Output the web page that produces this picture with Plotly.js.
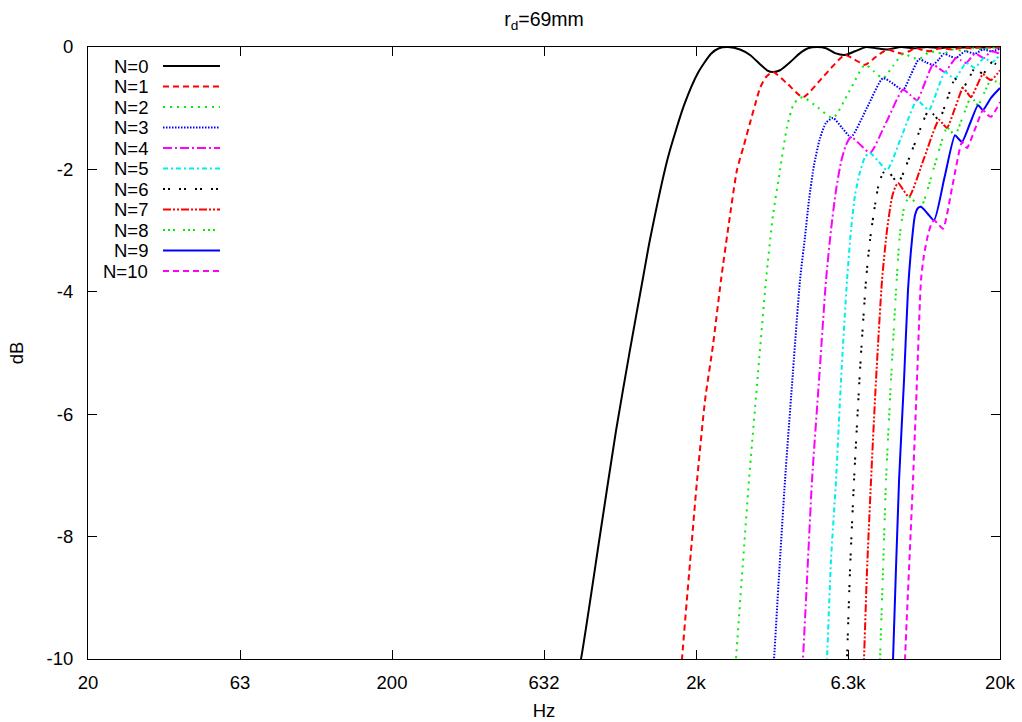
<!DOCTYPE html>
<html><head><meta charset="utf-8">
<script src="https://cdn.plot.ly/plotly-3.0.1.min.js"></script>
<style>html,body{margin:0;padding:0;background:#fff}#chart{width:1022px;height:722px}</style>
</head><body><div id="chart"></div>
<script>
// ---- data (frequency in Hz, level in dB) ----
const seriesNames = ['N=0','N=1','N=2','N=3','N=4','N=5','N=6','N=7','N=8','N=9','N=10'];

const hzN0 = [782,837,967,1092,1213,1339,1411,1618,1827,2031,2241,2381,2549,2791,3011,3248,3424,3583,3779,4076,4397,4671,5002,5354,5732,6184,6670,7250,7820,8500,9451,10505,11505,12696,13800,14999,16180,17453,18684,20000];
const dbN0 = [-10.67,-10,-7.97,-6.26,-4.95,-3.77,-3.15,-1.80,-0.95,-0.42,-0.11,-0.02,0,-0.04,-0.13,-0.28,-0.38,-0.41,-0.38,-0.25,-0.10,-0.02,0,-0.02,-0.10,-0.13,-0.07,0,-0.02,-0.04,0,-0.02,0,-0.02,0,-0.01,0,-0.01,0,0];

const hzN1 = [1746,1799,1911,2016,2142,2275,2417,2569,2728,2877,3011,3127,3248,3399,3583,4014,4498,5275,6184,6670,7195,7820,8500,9031,9596,10039,10505,11162,11770,12696,14011,14999,16302,17453,18684,20000];
const dbN1 = [-11.0,-10,-8.43,-7.08,-5.77,-4.87,-3.81,-2.86,-2.01,-1.60,-1.24,-0.95,-0.67,-0.49,-0.41,-0.61,-0.82,-0.47,-0.13,-0.21,-0.29,-0.16,-0.04,-0.08,-0.11,-0.07,-0.02,-0.05,-0.07,-0.02,-0.04,-0.01,-0.02,0,-0.01,-0.01];

const hzN2 = [2648,2708,2834,2988,3175,3399,3583,3779,3984,4170,4331,4498,5040,5646,6374,7195,7703,8246,8896,9596,10192,10829,11332,11770,12410,13087,14011,15343,16302,17585,18684,20000];
const dbN2 = [-10.67,-10,-8.63,-7.08,-5.52,-3.81,-2.75,-2.01,-1.31,-0.96,-0.85,-0.82,-0.99,-1.16,-0.73,-0.29,-0.40,-0.51,-0.31,-0.11,-0.16,-0.20,-0.13,-0.07,-0.09,-0.11,-0.04,-0.07,-0.02,-0.04,-0.01,-0.02];

const hzN3 = [3530,3611,3751,3925,4138,4397,4567,4707,4889,5117,5354,5646,6045,6471,7305,8246,8896,9596,10192,10829,11418,12041,12601,13087,13696,14333,15343,16551,17585,18684,20000];
const dbN3 = [-10.67,-10,-8.63,-7.08,-5.52,-3.81,-3.10,-2.50,-1.93,-1.49,-1.24,-1.16,-1.32,-1.47,-0.99,-0.51,-0.60,-0.70,-0.45,-0.20,-0.25,-0.29,-0.20,-0.11,-0.15,-0.18,-0.07,-0.11,-0.04,-0.07,-0.03];

const hzN4 = [4397,4498,4636,4816,5079,5354,5561,5776,5999,6231,6471,6954,7473,8467,9596,10115,10666,11332,12041,12601,13186,13748,14333,14885,15460,16551,17719,18684,20000];
const dbN4 = [-11.0,-10,-8.71,-7.08,-5.44,-3.81,-2.99,-2.34,-1.88,-1.60,-1.47,-1.60,-1.73,-1.22,-0.70,-0.78,-0.87,-0.58,-0.29,-0.35,-0.41,-0.29,-0.18,-0.22,-0.26,-0.11,-0.18,-0.07,-0.11];

const hzN5 = [5275,5395,5561,5776,5999,6278,6471,6670,6928,7195,7473,7970,8500,9524,10666,11162,11682,12410,13186,13696,14225,14829,15460,15997,16551,17719,18827,20000];
const dbN5 = [-11.0,-10,-8.38,-7.08,-5.44,-3.81,-2.99,-2.42,-2.04,-1.80,-1.73,-1.87,-2.01,-1.44,-0.87,-0.95,-1.03,-0.72,-0.41,-0.47,-0.52,-0.39,-0.26,-0.30,-0.34,-0.18,-0.25,-0.13];

const hzN6 = [6184,6278,6422,6620,6928,7250,7473,7762,8000,8246,8500,8862,9238,10387,11682,12132,12601,13388,14225,14662,15113,15816,16551,17061,17585,18827,20000];
const dbN6 = [-11.0,-10,-8.55,-7.08,-5.28,-3.81,-3.15,-2.58,-2.22,-2.06,-2.01,-2.12,-2.22,-1.63,-1.03,-1.11,-1.19,-0.86,-0.52,-0.60,-0.67,-0.51,-0.34,-0.39,-0.44,-0.25,-0.33];

const hzN7 = [7034,7141,7305,7530,7820,8184,8500,8829,9031,9238,9632,10039,11247,12601,12988,13388,14225,15113,15577,16057,16803,17585,17989,18684,20000];
const dbN7 = [-11.0,-10,-8.55,-7.08,-5.44,-3.81,-2.99,-2.45,-2.30,-2.22,-2.34,-2.45,-1.82,-1.19,-1.26,-1.32,-1.00,-0.67,-0.74,-0.82,-0.63,-0.44,-0.49,-0.54,-0.38];

const hzN8 = [7940,8061,8246,8436,8762,9100,9380,9669,9891,10039,10505,10994,12132,13388,13800,14225,15113,16057,16489,16930,17786,18684,20000];
const dbN8 = [-11.0,-10,-8.55,-7.08,-5.44,-3.97,-3.04,-2.63,-2.50,-2.45,-2.53,-2.61,-1.97,-1.32,-1.38,-1.44,-1.13,-0.82,-0.88,-0.95,-0.74,-0.54,-0.60];

const hzN9 = [8762,8896,9310,9669,9963,10270,10505,10746,10994,11549,12132,13137,14225,14606,14999,15936,16930,17255,17585,18684,20000];
const dbN9 = [-11.0,-10,-7.08,-5.44,-3.97,-3.15,-2.75,-2.63,-2.61,-2.72,-2.83,-2.13,-1.44,-1.50,-1.55,-1.25,-0.95,-0.99,-1.03,-0.83,-0.67];

const hzN10 = [9596,9742,10348,10666,10994,11247,11592,11859,12132,12553,12988,13958,14999,15286,15577,16551,17585,17989,18684,20000];
const dbN10 = [-11.0,-10,-7.08,-5.44,-3.81,-3.40,-3.07,-2.91,-2.83,-2.90,-2.97,-2.26,-1.55,-1.60,-1.65,-1.34,-1.03,-1.09,-1.14,-0.90];

const xTickVals = [20, 63.25, 200, 632.5, 2000, 6325, 20000];
const xTickText = ['20','63','200','632','2k','6.3k','20k'];
const yTickVals = [-10,-8,-6,-4,-2,0];
const yTickText = ['-10','-8','-6','-4','-2','0'];

// ---- styles ----
const lineColors = ['#000000','#ff0000','#00ee00','#0000ff','#ff00ff','#00eeee','#000000','#ff0000','#00ee00','#0000ff','#ff00ff'];
const lineDashes = ['solid','6px,4px','2px,5px','1.5px,1.5px','9px,3px,2px,3px','5px,3px,2px,3px',
                    '2px,3px,2px,9px','8px,2px,2px,2px,2px,2px','2px,3px,2px,3px,2px,8px','solid','6px,4px'];

const hzAll = [hzN0,hzN1,hzN2,hzN3,hzN4,hzN5,hzN6,hzN7,hzN8,hzN9,hzN10];
const dbAll = [dbN0,dbN1,dbN2,dbN3,dbN4,dbN5,dbN6,dbN7,dbN8,dbN9,dbN10];

const traces = seriesNames.map((name, i) => ({
  type: 'scatter', mode: 'lines', name: name,
  x: hzAll[i], y: dbAll[i],
  line: {color: lineColors[i], width: 2, dash: lineDashes[i], shape: 'spline', smoothing: 0.6},
  hoverinfo: 'skip'
}));

// ---- layout ----
const W = 1022, H = 722;
const M = {l: 88, r: 22, t: 47, b: 63};
const pw = W - M.l - M.r, ph = H - M.t - M.b;
const FONT = 'Liberation Sans, Arial, Helvetica, sans-serif';
const FS = 18.5;

// manual gnuplot-style legend: label right-aligned, sample to its right
const annotations = [];
const shapes = [];
seriesNames.forEach((name, i) => {
  const yPix = 19 + 20.5 * i;          // offset below top of plot area
  const yp = 1 - yPix / ph;
  annotations.push({
    xref: 'paper', yref: 'paper', x: 62 / pw, y: yp,
    xanchor: 'right', yanchor: 'middle', showarrow: false,
    text: name, font: {family: FONT, size: FS, color: '#000'}
  });
  shapes.push({
    type: 'line', xref: 'paper', yref: 'paper',
    x0: 75 / pw, x1: 132 / pw, y0: yp, y1: yp,
    line: {color: lineColors[i], width: 2, dash: lineDashes[i]}
  });
});

const layout = {
  width: W, height: H,
  margin: M,
  paper_bgcolor: '#ffffff', plot_bgcolor: '#ffffff',
  showlegend: false,
  font: {family: FONT, size: FS, color: '#000'},
  title: {
    text: 'r<sub>d</sub>=69mm',
    font: {family: FONT, size: 19.5, color: '#000'},
    x: 0.5, xref: 'paper', xanchor: 'center',
    y: 1 - 19 / H, yref: 'container', yanchor: 'middle'
  },
  xaxis: {
    type: 'log', range: [Math.log10(20), Math.log10(20000)],
    tickmode: 'array', tickvals: xTickVals, ticktext: xTickText,
    ticks: 'inside', ticklen: 9, tickwidth: 1, tickcolor: '#000',
    showline: true, linecolor: '#000', linewidth: 1, mirror: 'ticks',
    showgrid: false, zeroline: false,
    ticklabelstandoff: 7,
    tickfont: {family: FONT, size: FS, color: '#000'},
    title: {text: 'Hz', standoff: 11, font: {family: FONT, size: FS, color: '#000'}}
  },
  yaxis: {
    range: [-10, 0],
    tickmode: 'array', tickvals: yTickVals, ticktext: yTickText,
    ticks: 'inside', ticklen: 9, tickwidth: 1, tickcolor: '#000',
    showline: true, linecolor: '#000', linewidth: 1, mirror: 'ticks',
    showgrid: false, zeroline: false,
    ticklabelstandoff: 10,
    tickfont: {family: FONT, size: FS, color: '#000'},
    title: {text: 'dB', standoff: 18, font: {family: FONT, size: FS, color: '#000'}}
  },
  annotations: annotations,
  shapes: shapes
};

Plotly.newPlot('chart', traces, layout, {staticPlot: true, displayModeBar: false});
</script>
</body></html>
